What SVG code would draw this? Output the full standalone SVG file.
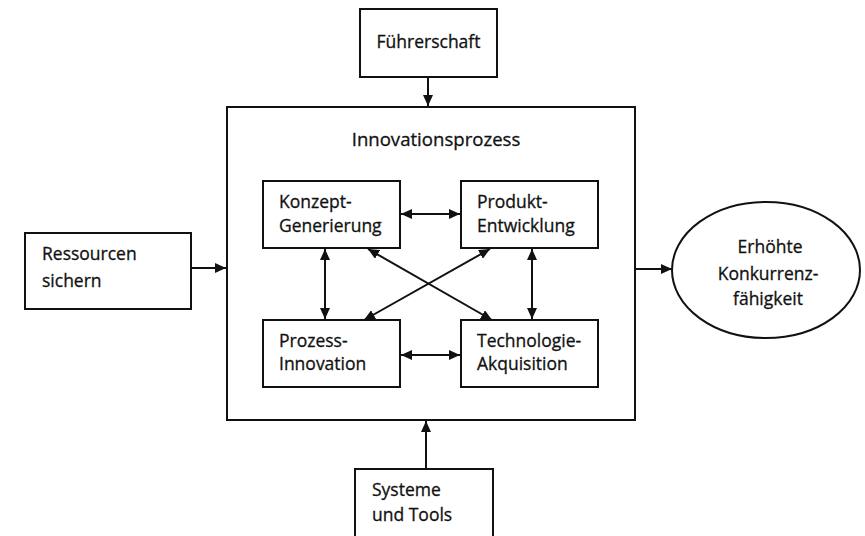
<svg xmlns="http://www.w3.org/2000/svg" width="865" height="536" viewBox="0 0 865 536">
  <style>
    .box { fill: #ffffff; stroke: #111111; stroke-width: 2; }
    .lbl { font-family: "Open Sans", "Liberation Sans", sans-serif; font-size: 17.5px; fill: #111111; stroke: #111111; stroke-width: 0.3; }
    .title { font-size: 18.6px; }
    .mid { text-anchor: middle; }
    .conn { stroke: #111111; stroke-width: 2; fill: none; }
    .one { marker-end: url(#head); }
    .two { marker-start: url(#head); marker-end: url(#head); }
  </style>
  <defs>
    <marker id="head" markerUnits="userSpaceOnUse" markerWidth="12" markerHeight="10" refX="11" refY="5" orient="auto-start-reverse">
      <path d="M0,0 L11,5 L0,10 Z" fill="#111111"/>
    </marker>
  </defs>

  <rect width="865" height="536" fill="#ffffff"/>

  <!-- outer process frame -->
  <g id="innovationsprozess">
    <rect class="box" x="227" y="107" width="408" height="313"/>
    <text class="lbl title mid" x="436" y="146">Innovationsprozess</text>
  </g>

  <g id="fuehrerschaft">
    <rect class="box" x="360" y="9" width="137" height="68"/>
    <text class="lbl mid" x="428.5" y="48">Führerschaft</text>
  </g>

  <g id="ressourcen">
    <rect class="box" x="25" y="233" width="166" height="76"/>
    <text class="lbl" x="42" y="260">Ressourcen</text>
    <text class="lbl" x="42" y="287">sichern</text>
  </g>

  <g id="systeme">
    <rect class="box" x="355" y="469" width="138" height="75"/>
    <text class="lbl" x="372" y="496">Systeme</text>
    <text class="lbl" x="372" y="521">und Tools</text>
  </g>

  <g id="konkurrenz">
    <ellipse class="box" cx="766" cy="270" rx="94" ry="68"/>
    <text class="lbl mid" x="770" y="253">Erhöhte</text>
    <text class="lbl mid" x="768" y="280">Konkurrenz-</text>
    <text class="lbl mid" x="768" y="305">fähigkeit</text>
  </g>

  <g id="konzept">
    <rect class="box" x="263" y="181" width="137" height="67"/>
    <text class="lbl" x="279" y="208">Konzept-</text>
    <text class="lbl" x="279" y="232">Generierung</text>
  </g>

  <g id="produkt">
    <rect class="box" x="461" y="181" width="137" height="67"/>
    <text class="lbl" x="477" y="208">Produkt-</text>
    <text class="lbl" x="477" y="232">Entwicklung</text>
  </g>

  <g id="prozess">
    <rect class="box" x="263" y="320" width="137" height="67"/>
    <text class="lbl" x="279" y="347">Prozess-</text>
    <text class="lbl" x="279" y="370">Innovation</text>
  </g>

  <g id="technologie">
    <rect class="box" x="461" y="320" width="137" height="67"/>
    <text class="lbl" x="477" y="347">Technologie-</text>
    <text class="lbl" x="477" y="370">Akquisition</text>
  </g>

  <g id="connectors">
    <line class="conn one" x1="428" y1="77" x2="428" y2="106"/>
    <line class="conn one" x1="426" y1="469" x2="426" y2="421"/>
    <line class="conn one" x1="191" y1="268" x2="226" y2="268"/>
    <line class="conn one" x1="635" y1="269" x2="672" y2="269"/>
    <line class="conn two" x1="401" y1="214" x2="460" y2="214"/>
    <line class="conn two" x1="401" y1="355" x2="460" y2="355"/>
    <line class="conn two" x1="325" y1="249" x2="325" y2="319"/>
    <line class="conn two" x1="532" y1="249" x2="532" y2="319"/>
    <line class="conn two" x1="368" y1="249" x2="492" y2="320"/>
    <line class="conn two" x1="490" y1="249" x2="364" y2="320"/>
  </g>
</svg>
